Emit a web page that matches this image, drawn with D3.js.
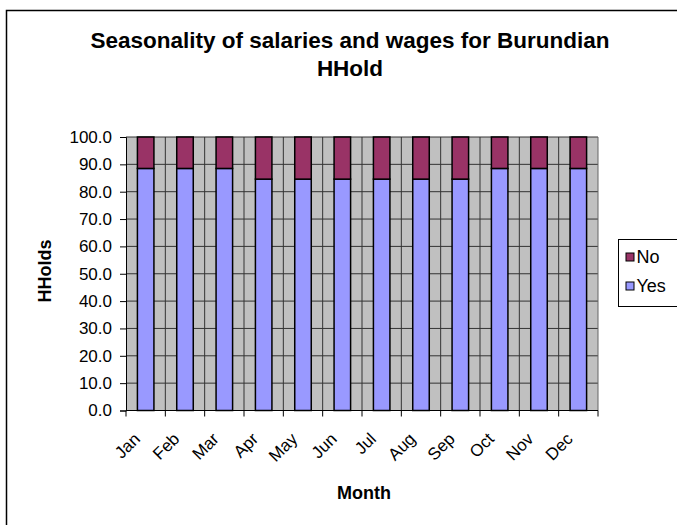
<!DOCTYPE html>
<html><head><meta charset="utf-8">
<script src="https://cdn.jsdelivr.net/npm/d3@7"></script>
<style>body{margin:0;background:#fff}svg{display:block;font-family:"Liberation Sans",Arial,sans-serif}</style>
</head><body>
<script>
const months = ["Jan","Feb","Mar","Apr","May","Jun","Jul","Aug","Sep","Oct","Nov","Dec"];
const yesValues = [88.5,88.5,88.5,84.6,84.6,84.6,84.6,84.6,84.6,88.5,88.5,88.5];
const noValues = [11.5,11.5,11.5,15.4,15.4,15.4,15.4,15.4,15.4,11.5,11.5,11.5];
const seriesNames = ["Yes","No"];
const yTicks = [0,10,20,30,40,50,60,70,80,90,100];

const W = 677, H = 525;
const svg = d3.select("body").append("svg").attr("width", W).attr("height", H);
svg.append("rect").attr("x",6.5).attr("y",10.5).attr("width",W+10).attr("height",H+10)
  .attr("fill","#fff").attr("stroke","#000").attr("stroke-width",1.5);

const L = 126, R = 598, T = 137, B = 410.5;
const x = d3.scaleBand().domain(months).range([L,R]).paddingInner(0.58).paddingOuter(0.29);
const xb = d3.scaleBand().domain(months).range([L,R]);
const y = d3.scaleLinear().domain([0,100]).range([B,T]);

svg.append("rect").attr("x",L).attr("y",T).attr("width",R-L).attr("height",B-T).attr("fill","#C0C0C0");
svg.append("g").selectAll("line").data(yTicks.slice(1)).join("line")
  .attr("x1",L).attr("x2",R).attr("y1",d=>y(d)).attr("y2",d=>y(d)).attr("stroke","#333").attr("stroke-width",1);
svg.append("g").selectAll("line").data(months.slice(1)).join("line")
  .attr("x1",d=>xb(d)).attr("x2",d=>xb(d)).attr("y1",T).attr("y2",B).attr("stroke","#333").attr("stroke-width",1);
svg.append("line").attr("x1",R).attr("x2",R).attr("y1",T).attr("y2",B).attr("stroke","#666").attr("stroke-width",1);

const data = months.map((m,i)=>({month:m, Yes:yesValues[i], No:noValues[i]}));
const stack = d3.stack().keys(seriesNames)(data);
const colors = {Yes:"#9999FF", No:"#993366"};
svg.append("g").selectAll("g").data(stack).join("g").attr("fill",d=>colors[d.key])
  .selectAll("rect").data(d=>d).join("rect")
  .attr("x",d=>x(d.data.month)).attr("width",x.bandwidth())
  .attr("y",d=>y(d[1])).attr("height",d=>y(d[0])-y(d[1]))
  .attr("stroke","#000").attr("stroke-width",1.5);

const yAxis = d3.axisLeft(y).tickValues(yTicks).tickFormat(d3.format(".1f")).tickSize(6).tickPadding(8);
const gy = svg.append("g").attr("transform",`translate(${L},0)`).call(yAxis);
gy.attr("font-size",null).attr("font-family",null);
gy.selectAll("text").attr("font-size",17).attr("fill","#000");
gy.select(".domain").attr("stroke","#000");

const gx = svg.append("g").attr("transform",`translate(0,${B})`);
gx.append("line").attr("x1",L).attr("x2",R).attr("stroke","#000");
gx.selectAll("line.t").data(d3.range(months.length+1)).join("line").attr("class","t")
  .attr("x1",i=>L+i*xb.step()).attr("x2",i=>L+i*xb.step()).attr("y1",0).attr("y2",6).attr("stroke","#000");
gx.selectAll("text").data(months).join("text")
  .attr("transform",d=>`translate(${xb(d)+xb.bandwidth()/2-4.5},${29.5}) rotate(-45)`)
  .attr("text-anchor","end").attr("font-size",17).text(d=>d);

const title = svg.append("text").attr("text-anchor","middle").attr("font-weight","bold").attr("font-size",22.5);
title.append("tspan").attr("x",350).attr("y",48).text("Seasonality of salaries and wages for Burundian");
title.append("tspan").attr("x",350).attr("y",76).text("HHold");
svg.append("text").attr("x",364).attr("y",499).attr("text-anchor","middle").attr("font-weight","bold").attr("font-size",18).text("Month");
svg.append("text").attr("transform",`translate(50.5,271) rotate(-90)`).attr("text-anchor","middle").attr("font-weight","bold").attr("font-size",18).text("HHolds");

const lg = svg.append("g").attr("transform","translate(618.5,239.5)");
lg.append("rect").attr("width",70).attr("height",67).attr("fill","#fff").attr("stroke","#000");
["No","Yes"].forEach((k,i)=>{
  lg.append("rect").attr("x",7.5).attr("y",13.5+i*29).attr("width",8).attr("height",8).attr("fill",colors[k]).attr("stroke","#000");
  lg.append("text").attr("x",18).attr("y",23.5+i*29).attr("font-size",18).text(k);
});
</script>
</body></html>
